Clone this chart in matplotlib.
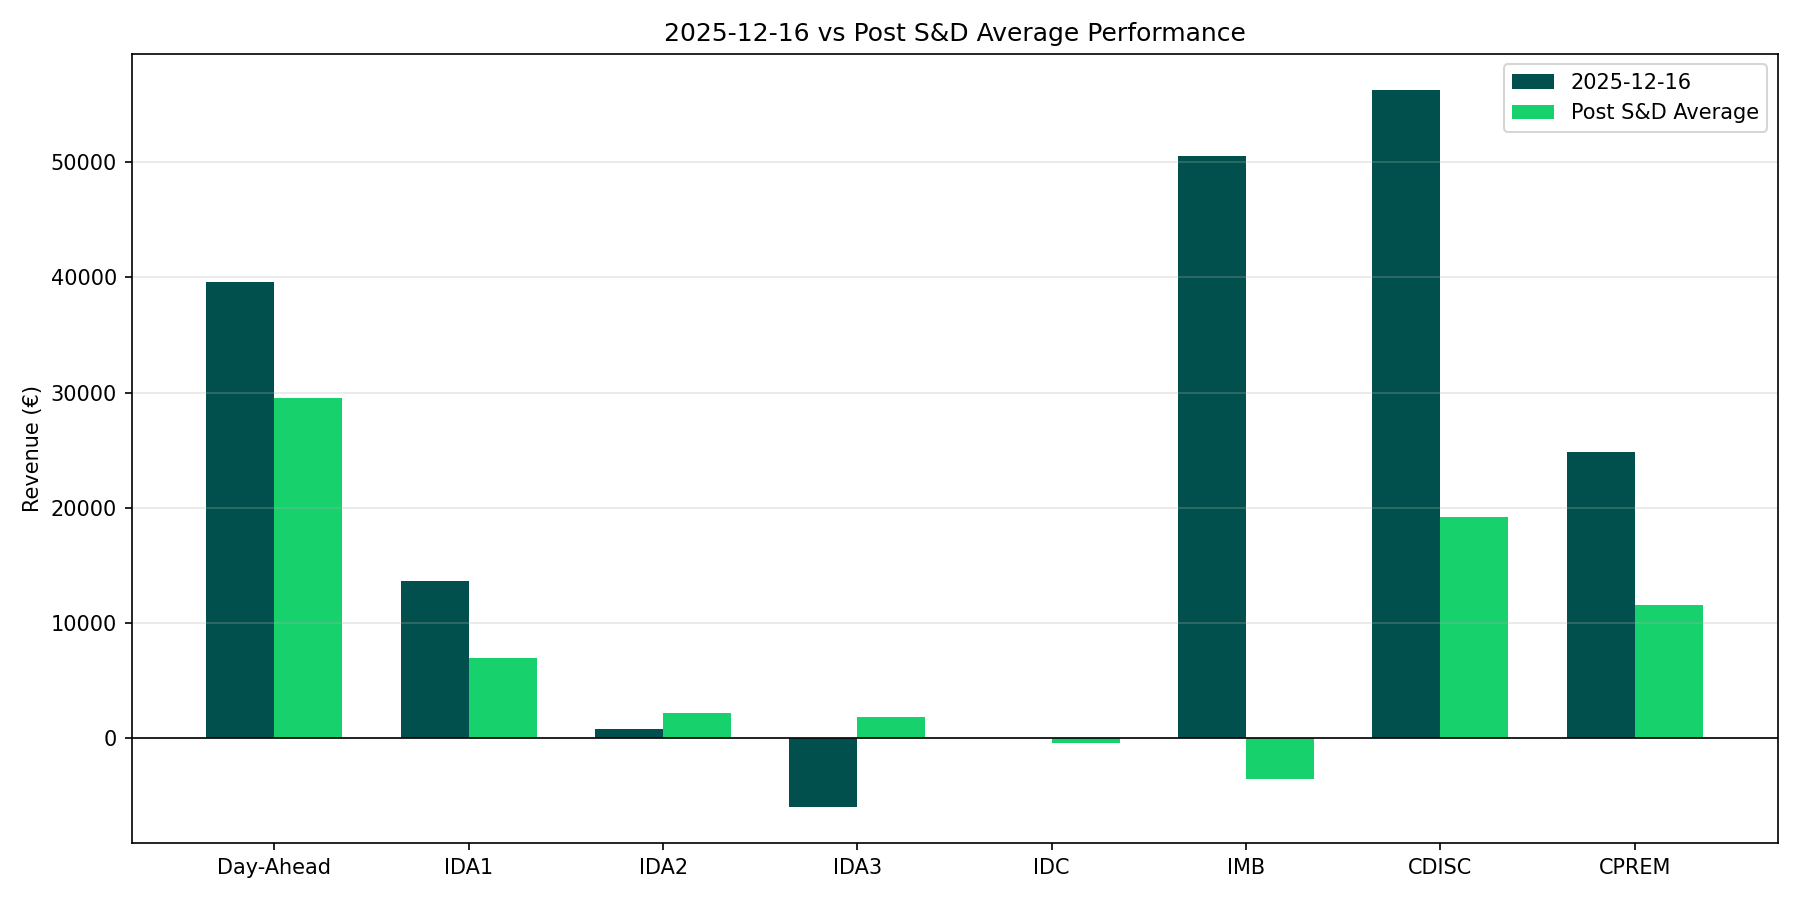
import matplotlib
matplotlib.use("Agg")
import matplotlib.pyplot as plt
import numpy as np

categories = ["Day-Ahead", "IDA1", "IDA2", "IDA3", "IDC", "IMB", "CDISC", "CPREM"]
day_values = [39620, 13630, 810, -5980, 0, 50520, 56280, 24800]
avg_values = [29500, 7000, 2200, 1860, -410, -3550, 19210, 11540]
series_labels = ["2025-12-16", "Post S&D Average"]

fig, ax = plt.subplots(figsize=(12, 6), dpi=150)
x = np.arange(len(categories))
w = 0.35
ax.bar(x - w / 2, day_values, w, label=series_labels[0], color="#02504D")
ax.bar(x + w / 2, avg_values, w, label=series_labels[1], color="#17D16D")
ax.axhline(0, color="black", linewidth=0.8)
ax.set_xticks(x)
ax.set_xticklabels(categories)
ax.set_ylabel("Revenue (€)")
ax.set_title("2025-12-16 vs Post S&D Average Performance")
ax.legend()
ax.grid(axis="y", alpha=0.3)
fig.tight_layout()
fig.savefig("out.png")
